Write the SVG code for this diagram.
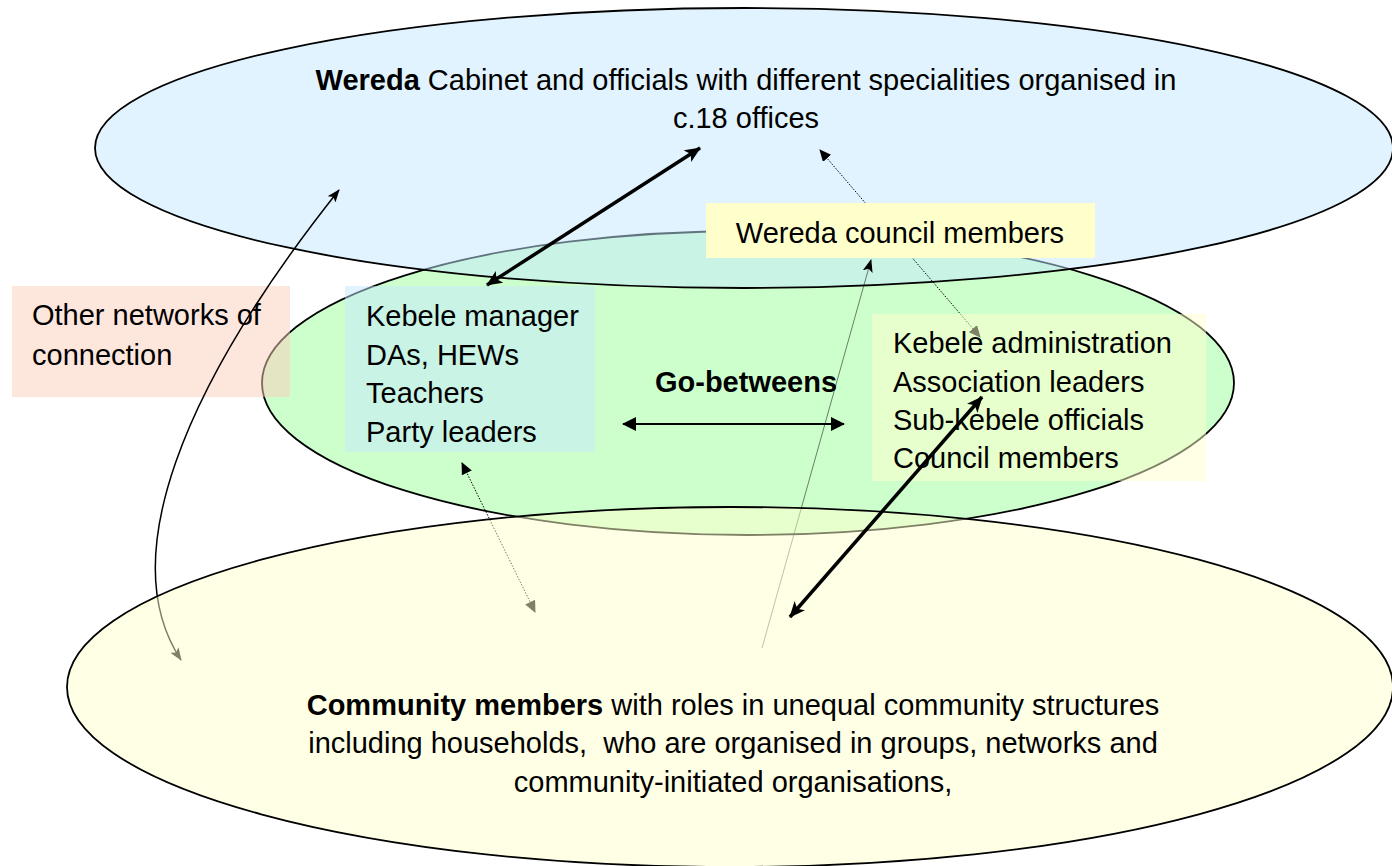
<svg xmlns="http://www.w3.org/2000/svg" width="1392" height="866" viewBox="0 0 1392 866">
<style>
text{font-family:"Liberation Sans",Arial,sans-serif;font-size:29px;fill:#000}
.b{font-weight:bold}
.ell{stroke:#000;stroke-width:1.8}
.con{fill:none;stroke:#000}
</style>
<defs>
<marker id="stealthL" markerUnits="userSpaceOnUse" viewBox="0 0 16 14" refX="15" refY="7" markerWidth="16" markerHeight="14" orient="auto-start-reverse"><path d="M0,0 L16,7 L0,14 L4,7 z" fill="#000"/></marker>
<marker id="stealthS" markerUnits="userSpaceOnUse" viewBox="0 0 13 10" refX="12" refY="5" markerWidth="13" markerHeight="10" orient="auto-start-reverse"><path d="M0,0 L13,5 L0,10 L3,5 z" fill="#000"/></marker>
<marker id="tri" markerUnits="userSpaceOnUse" viewBox="0 0 14 14" refX="13" refY="7" markerWidth="14" markerHeight="14" orient="auto-start-reverse"><path d="M0,0 L14,7 L0,14 z" fill="#000"/></marker>
<marker id="triS" markerUnits="userSpaceOnUse" viewBox="0 0 12 11" refX="11" refY="5.5" markerWidth="12" markerHeight="11" orient="auto-start-reverse"><path d="M0,0 L12,5.5 L0,11 z" fill="#000"/></marker>
</defs>

<g id="kebele-ellipse"><ellipse class="ell" cx="748" cy="383" rx="486" ry="152" fill="#CCFFCC"/></g>
<g id="wereda"><ellipse class="ell" cx="744" cy="148" rx="649" ry="140" fill="#C3E7FD" fill-opacity="0.5"/></g>
<g id="other-networks-box"><rect x="12" y="286" width="278" height="111" fill="#FBCDB9" fill-opacity="0.5"/></g>
<g id="kebele-staff-box"><rect x="345" y="286" width="250" height="166" fill="#C3E7FD" fill-opacity="0.5"/></g>

<g id="connectors-under">
<path class="con" stroke-width="1.5" d="M339,190 C180,390 115,560 181,660" marker-start="url(#stealthS)" marker-end="url(#stealthS)"/>
<line class="con" stroke-width="1" stroke-dasharray="1.5,1.5" x1="820" y1="150" x2="980" y2="337" marker-start="url(#triS)" marker-end="url(#triS)"/>
<line class="con" stroke-width="1" stroke-dasharray="1.5,1.5" x1="462" y1="463" x2="535" y2="612" marker-start="url(#triS)" marker-end="url(#triS)"/>
<line class="con" stroke-width="0.5" x1="762" y1="648" x2="871" y2="260" marker-end="url(#stealthS)"/>
</g>

<g id="community"><ellipse class="ell" cx="730" cy="687" rx="663" ry="180" fill="#FFFFCB" fill-opacity="0.5"/></g>
<g id="kebele-admin-box"><rect x="872" y="314" width="334" height="167" fill="#FFFFCB" fill-opacity="0.5"/></g>
<g id="wereda-council"><rect x="706" y="203" width="389" height="55" fill="#FFFFCC"/></g>

<g id="connectors">
<line class="con" stroke-width="3.5" x1="487" y1="285" x2="700" y2="148" marker-start="url(#stealthL)" marker-end="url(#stealthL)"/>
<line class="con" stroke-width="3.5" x1="790" y1="617" x2="982" y2="397" marker-start="url(#stealthL)" marker-end="url(#stealthL)"/>
<line class="con" stroke-width="2" x1="623" y1="424" x2="844" y2="424" marker-start="url(#tri)" marker-end="url(#tri)"/>
</g>

<g id="labels">
<text x="746" y="90" text-anchor="middle"><tspan class="b">Wereda</tspan> Cabinet and officials with different specialities organised in</text>
<text x="746" y="128" text-anchor="middle">c.18 offices</text>
<text x="900" y="243" text-anchor="middle">Wereda council members</text>
<text x="32" y="325">Other networks of</text>
<text x="32" y="365">connection</text>
<text x="366" y="326">Kebele manager</text>
<text x="366" y="364.5">DAs, HEWs</text>
<text x="366" y="403">Teachers</text>
<text x="366" y="441.5">Party leaders</text>
<text class="b" x="746" y="392" text-anchor="middle">Go-betweens</text>
<text x="893" y="353">Kebele administration</text>
<text x="893" y="392">Association leaders</text>
<text x="893" y="430">Sub-kebele officials</text>
<text x="893" y="468">Council members</text>
<text x="733" y="715" text-anchor="middle"><tspan class="b">Community members</tspan> with roles in unequal community structures</text>
<text x="733" y="753" text-anchor="middle" xml:space="preserve">including households,  who are organised in groups, networks and</text>
<text x="733" y="792" text-anchor="middle">community-initiated organisations,</text>
</g>
</svg>
